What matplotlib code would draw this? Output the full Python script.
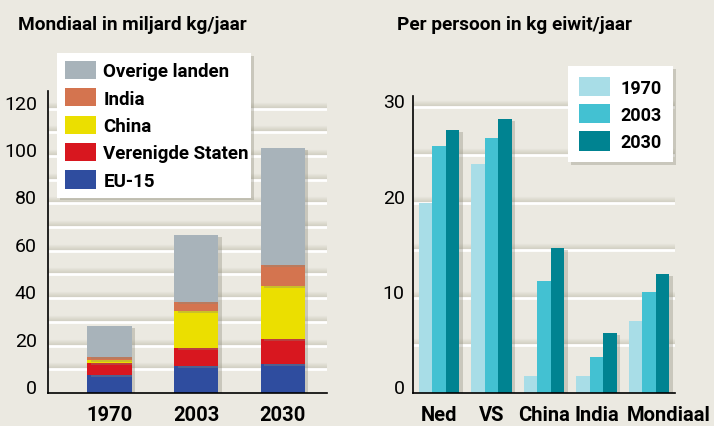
"""
Eiwitconsumptie: mondiaal en per persoon
"""

import numpy as np
import matplotlib
matplotlib.use('Agg')
import matplotlib.pyplot as plt
import matplotlib.transforms as mtransforms
import matplotlib.patheffects as pe
from matplotlib.patches import Patch

matplotlib.rcParams['font.family'] = ['Roboto', 'DejaVu Sans']

# left panel: world total, billion kg / year
years = ['1970', '2003', '2030']
eu15 = [7.6, 11.3, 12.1]
vs = [5.1, 7.7, 10.7]
china = [1.2, 15.6, 22.3]
india = [1.3, 3.8, 8.9]
overig = [13.1, 28.3, 49.2]

# right panel: per person, kg protein / year
regions = ['Ned', 'VS', 'China', 'India', 'Mondiaal']
pp_1970 = [20.0, 24.1, 1.8, 1.8, 7.6]
pp_2003 = [25.9, 26.8, 11.8, 3.8, 10.6]
pp_2030 = [27.6, 28.8, 15.2, 6.3, 12.5]

BG = '#ebe9e1'
SHADOW = [pe.SimplePatchShadow(offset=(2.5, -1.5), shadow_rgbFace='#8a8878', alpha=0.35),
          pe.Normal()]


def fancy_grid(ax, fig, values):
    """white grid lines with a soft darker band above"""
    for v in values:
        for k in range(1, 7):
            off = mtransforms.ScaledTranslation(0, k / fig.dpi, fig.dpi_scale_trans)
            ax.plot([0, 1], [v, v], transform=ax.get_yaxis_transform() + off,
                    color='#b9b7a3', alpha=0.5 * (1 - k / 7), lw=1.0, zorder=0.5,
                    solid_capstyle='butt')
        ax.plot([0, 1], [v, v], transform=ax.get_yaxis_transform(),
                color='white', lw=2.0, zorder=0.6, solid_capstyle='butt')


def style_axes(ax, ypad):
    ax.set_facecolor(BG)
    for side in ['top', 'right']:
        ax.spines[side].set_visible(False)
    for side in ['left', 'bottom']:
        ax.spines[side].set_linewidth(1.2)
        ax.spines[side].set_zorder(5)
    ax.tick_params(length=0)
    ax.tick_params(axis='y', pad=ypad)
    ax.tick_params(axis='x', pad=9)


def white_legend(fig, handles, labels, box, size, **kw):
    """legend in a white box with a soft shadow, box given in pixels"""
    x0, y0, x1, y1 = box
    leg = fig.legend(handles, labels, loc='upper left', mode='expand',
                     bbox_to_anchor=(x0 / 714, 1 - y1 / 427, (x1 - x0) / 714, (y1 - y0) / 427),
                     borderaxespad=0, prop={'weight': 'bold', 'size': size},
                     fancybox=False, frameon=True, framealpha=1,
                     shadow={'color': '#8a8878', 'alpha': 0.35, 'ox': 2, 'oy': -2}, **kw)
    leg.get_frame().set_linewidth(0)
    leg.get_frame().set_facecolor('white')
    return leg


def main():
    fig = plt.figure(figsize=(7.14, 4.27), dpi=100, facecolor=BG)

    # ---- left: stacked bars
    ax01 = fig.add_axes([48 / 714, 1 - 394 / 427, 279 / 714, 302 / 427])
    style_axes(ax01, 8)
    xs = np.arange(len(years))
    colors = ['#2f4d9f', '#d8171f', '#ebdf00', '#d4744f', '#a8b3ba']
    labels = ['EU-15', 'Verenigde Staten', 'China', 'India', 'Overige landen']
    bottom = np.zeros(len(years))
    handles = []
    for vals, col, lab in zip([eu15, vs, china, india, overig], colors, labels):
        bars = ax01.bar(xs, vals, width=0.51, bottom=bottom, color=col, zorder=2)
        for b in bars:
            b.set_path_effects(SHADOW)
        bottom += np.array(vals)
        handles.append(Patch(facecolor=col, label=lab))
    ax01.set_xlim(-0.71, 2.51)
    ax01.set_ylim(0, 127.4)
    ax01.set_xticks(xs)
    ax01.set_xticklabels(years, fontweight='bold', fontsize=14.5)
    yt = np.arange(0, 121, 20)
    ax01.set_yticks(yt)
    ax01.set_yticklabels([str(v) for v in yt], fontsize=14, va='baseline')
    fancy_grid(ax01, fig, np.arange(10, 121, 10))

    white_legend(fig, handles[::-1], labels[::-1], (57, 54, 251, 203), 13.5,
                 handlelength=1.65, handleheight=1.12, labelspacing=0.42,
                 handletextpad=0.4, borderpad=0.42)

    fig.text(18 / 714, 1 - 25 / 427, 'Mondiaal in miljard kg/jaar', fontsize=13.7,
             fontweight='bold', va='center', ha='left')

    # ---- right: grouped bars
    ax02 = fig.add_axes([413 / 714, 1 - 394 / 427, 262 / 714, 297 / 427])
    style_axes(ax02, 6)
    xr = np.arange(len(regions))
    w = 0.258
    pcols = ['#a8dde7', '#43c1d2', '#008391']
    phandles = []
    for i, (vals, col, lab) in enumerate(zip([pp_1970, pp_2003, pp_2030], pcols, years)):
        bars = ax02.bar(xr + (i - 1) * w, vals, width=w, color=col, zorder=2)
        for b in bars:
            b.set_path_effects(SHADOW)
        phandles.append(Patch(facecolor=col, label=lab))
    ax02.set_xlim(-0.5, 4.5)
    ax02.set_ylim(0, 31.2)
    ax02.set_xticks(xr)
    ax02.set_xticklabels(regions, fontweight='bold', fontsize=14.5)
    # the last category label sits a bit to the right in the original
    last = ax02.get_xticklabels()[-1]
    last.set_transform(last.get_transform()
                       + mtransforms.ScaledTranslation(0.2, 0, fig.dpi_scale_trans))
    yt2 = [0, 10, 20, 30]
    ax02.set_yticks(yt2)
    ax02.set_yticklabels([str(v) for v in yt2], fontsize=14, va='baseline')
    fancy_grid(ax02, fig, np.arange(5, 31, 5))

    white_legend(fig, phandles, years, (568, 67, 673, 181), 13,
                 handlelength=1.72, handleheight=1.27, labelspacing=0.42,
                 handletextpad=0.6, borderpad=0.6)

    fig.text(397 / 714, 1 - 25 / 427, 'Per persoon in kg eiwit/jaar', fontsize=13.7,
             fontweight='bold', va='center', ha='left')

    fig.savefig('out.png', dpi=100, facecolor=BG)


if __name__ == "__main__":
    main()
